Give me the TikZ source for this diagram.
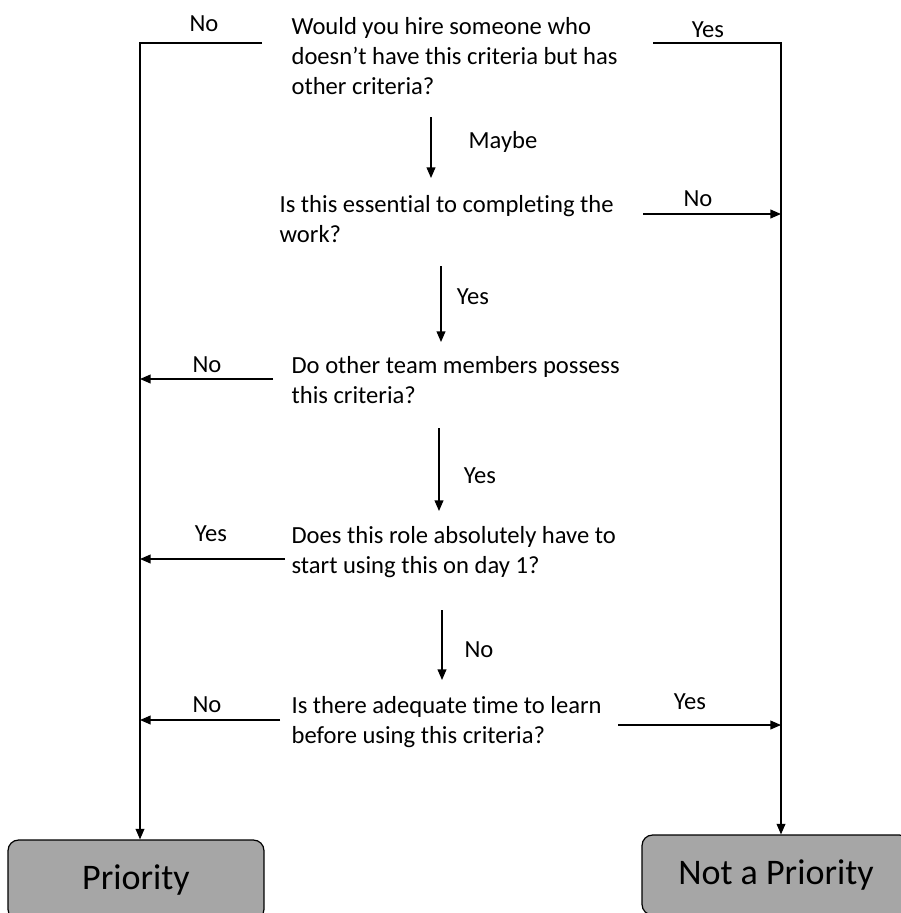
\documentclass[tikz,border=0pt]{standalone}
\usepackage{fontspec}
\setmainfont{Carlito}[Ligatures=NoCommon]
\usetikzlibrary{arrows.meta,calc}
\definecolor{boxgray}{HTML}{A6A6A6}

\begin{document}
\begin{tikzpicture}[x=0.02cm,y=-0.02cm,line width=0.7pt,
	arr/.style={-{Triangle[length=6pt,width=5pt]}},
	quest/.style={anchor=west,align=left,inner sep=0pt,font=\fontsize{14}{17.3}\selectfont},
	lab/.style={inner sep=0pt,font=\fontsize{14}{17}\selectfont},
	result/.style={draw,fill=boxgray,rounded corners=6pt,font=\fontsize{20.5}{24}\selectfont}]
	\useasboundingbox (0,0) rectangle (900,913);
	% questions
	\node[quest] (q1) at (291,56) {Would you hire someone who\\doesn’t have this criteria but has\\other criteria?};
	\node[quest] (q2) at (279,219) {Is this essential to completing the\\work?};
	\node[quest] (q3) at (291,380) {Do other team members possess\\this criteria?};
	\node[quest] (q4) at (291,552) {Does this role absolutely have to\\start using this on day 1?};
	\node[quest] (q5) at (291,722) {Is there adequate time to learn\\before using this criteria?};
	% outcomes
	\node[result,minimum width=5.12cm,minimum height=1.6cm] (prio) at (136,880) {Priority};
	\node[result,minimum width=5.36cm,minimum height=1.6cm] (notprio) at (776,875) {Not a Priority};
	\path
	(262,43) coordinate (tl)
	(140,43) coordinate (tlc)
	(653,43) coordinate (tr)
	(781,43) coordinate (trc)
	(431,117) coordinate (m1) (431,178) coordinate (m2)
	(441,266) coordinate (y1) (441,342) coordinate (y2)
	(439,428) coordinate (y3) (439,511) coordinate (y4)
	(442,610) coordinate (n1) (442,680) coordinate (n2)
	(643,214) coordinate (q2r)
	(618,725) coordinate (q5r)
	(273,379) coordinate (q3l)
	(285,559) coordinate (q4l)
	(280,720) coordinate (q5l)
	;
	\draw[arr] (tl) -- (tlc) -- (tlc |- prio.north);
	\draw[arr] (tr) -- (trc) -- (trc |- notprio.north);
	\draw[arr] (q2r) -- (q2r -| trc);
	\draw[arr] (q5r) -- (q5r -| trc);
	\foreach \p in {q3l,q4l,q5l} \draw[arr] (\p) -- (\p -| tlc);
	\foreach \a/\b in {m1/m2,y1/y2,y3/y4,n1/n2} \draw[arr] (\a) -- (\b);
	% labels
	\foreach \t/\x/\y/\n in {No/204/24/l1,Yes/708/30/l2,Maybe/503/142/l3,No/698/199/l4,Yes/473/297/l5,No/207/365/l6,Yes/480/476/l7,Yes/211/534/l8,No/479/650/l9,No/207/705/l10,Yes/690/702/l11}
		\node[lab] (\n) at (\x,\y) {\t};
\end{tikzpicture}
\end{document}
